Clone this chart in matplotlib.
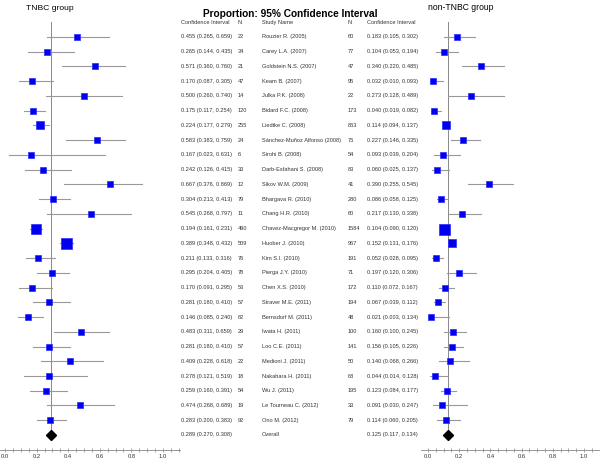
import numpy as np
import matplotlib.pyplot as plt
from matplotlib.ticker import MultipleLocator

plt.rcParams['font.family'] = ['Liberation Sans', 'DejaVu Sans']

studies = ["Rouzier R. (2005)", "Carey L.A. (2007)", "Goldstein N.S. (2007)", "Keam B. (2007)",
           "Julka P.K. (2008)", "Bidard F.C. (2008)", "Liedtke C. (2008)",
           "Sánchez-Muñoz Alfonso (2008)", "Sirohi B. (2008)", "Darb-Esfahani S. (2008)",
           "Sikov W.M. (2009)", "Bhargava R. (2010)", "Chang H.R. (2010)",
           "Chavez-Macgregor M. (2010)", "Huober J. (2010)", "Kim S.I. (2010)",
           "Pierga J.Y. (2010)", "Chen X.S. (2010)", "Straver M.E. (2011)",
           "Bernsdorf M. (2011)", "Iwata H. (2011)", "Loo C.E. (2011)", "Medioni J. (2011)",
           "Nakahara H. (2011)", "Wu J. (2011)", "Le Tourneau C. (2012)", "Ono M. (2012)"]

# TNBC group
tn_p  = [0.455, 0.265, 0.571, 0.170, 0.500, 0.175, 0.224, 0.583, 0.167, 0.242, 0.667, 0.304, 0.545,
         0.194, 0.389, 0.211, 0.295, 0.170, 0.281, 0.146, 0.483, 0.281, 0.409, 0.278, 0.259, 0.474, 0.283]
tn_lo = [0.265, 0.144, 0.360, 0.087, 0.260, 0.117, 0.177, 0.383, 0.023, 0.126, 0.376, 0.213, 0.268,
         0.161, 0.348, 0.133, 0.204, 0.091, 0.180, 0.085, 0.311, 0.180, 0.228, 0.121, 0.160, 0.268, 0.200]
tn_hi = [0.659, 0.435, 0.760, 0.305, 0.740, 0.254, 0.279, 0.759, 0.631, 0.415, 0.869, 0.413, 0.797,
         0.231, 0.432, 0.316, 0.405, 0.295, 0.410, 0.240, 0.659, 0.410, 0.618, 0.519, 0.391, 0.689, 0.383]
tn_n  = [22, 34, 21, 47, 14, 120, 255, 24, 6, 33, 12, 79, 11, 490, 509, 76, 78, 53, 57, 82, 29, 57,
         22, 18, 54, 19, 92]
tn_overall = (0.289, 0.270, 0.308)

# non-TNBC group
nt_p  = [0.183, 0.104, 0.340, 0.032, 0.273, 0.040, 0.114, 0.227, 0.093, 0.060, 0.390, 0.086, 0.217,
         0.104, 0.152, 0.052, 0.197, 0.110, 0.067, 0.021, 0.160, 0.156, 0.140, 0.044, 0.123, 0.091, 0.114]
nt_lo = [0.105, 0.053, 0.220, 0.010, 0.128, 0.019, 0.094, 0.146, 0.039, 0.025, 0.255, 0.058, 0.130,
         0.090, 0.131, 0.028, 0.120, 0.072, 0.039, 0.003, 0.100, 0.105, 0.068, 0.014, 0.084, 0.030, 0.060]
nt_hi = [0.302, 0.194, 0.485, 0.093, 0.489, 0.082, 0.137, 0.335, 0.204, 0.137, 0.545, 0.125, 0.338,
         0.120, 0.176, 0.095, 0.306, 0.167, 0.112, 0.134, 0.245, 0.226, 0.266, 0.128, 0.177, 0.247, 0.205]
nt_n  = [60, 77, 47, 95, 22, 173, 863, 75, 54, 83, 41, 280, 60, 1584, 967, 191, 71, 172, 194, 48, 100,
         141, 50, 68, 195, 33, 79]
nt_overall = (0.125, 0.117, 0.134)

W, H = 600, 461
fig = plt.figure(figsize=(W / 100, H / 100), dpi=100)

row0, step = 37, 14.74
top_px, bot_px = 22, 450
ylim = ((bot_px - row0) / step, (top_px - row0) / step)
nrow = len(studies)
txtcol = '#333333'


def fx(px):
    return px / W


def make_axes(left_px, right_px, x0, x1):
    ax = fig.add_axes([fx(left_px), 1 - bot_px / H, fx(right_px - left_px), (bot_px - top_px) / H])
    ax.set_xlim(x0, x1)
    ax.set_ylim(*ylim)
    for s in ['top', 'right', 'left']:
        ax.spines[s].set_visible(False)
    ax.spines['bottom'].set_color('#888888')
    ax.spines['bottom'].set_linewidth(0.6)
    ax.set_yticks([])
    ax.xaxis.set_major_locator(MultipleLocator(0.2))
    ax.xaxis.set_minor_locator(MultipleLocator(0.05))
    ax.tick_params(axis='x', which='both', direction='inout', length=3, width=0.5,
                   color='#888888', labelsize=4.2, labelcolor=txtcol, pad=1.5)
    ax.xaxis.set_major_formatter(plt.FuncFormatter(lambda v, p: f"{v:.1f}"))
    ax.set_facecolor('none')
    return ax


def forest(ax, p, lo, hi, n, overall):
    nmax = max(n)
    ax.axvline(overall[0], ymin=0.023, ymax=1, color='#888888', lw=0.7, zorder=1)
    for i in range(len(p)):
        ax.plot([lo[i], hi[i]], [i, i], color='#999999', lw=0.8, zorder=2)
        side = 5.5 + 5.5 * n[i] / nmax
        ax.plot(p[i], i, marker='s', ms=side * 0.72, color='#0000ee', mec='#2a2aff', mew=0.5, zorder=3)
    ax.plot([overall[1], overall[2]], [nrow, nrow], color='#999999', lw=0.8, zorder=2)
    ax.plot(overall[0], nrow, marker='D', ms=5, color='black', zorder=3)
    ax.set_ylim(*ylim)


axL = make_axes(0, 180, -0.032, 1.108)
forest(axL, tn_p, tn_lo, tn_hi, tn_n, tn_overall)
axR = make_axes(421, 600, -0.045, 1.103)
forest(axR, nt_p, nt_lo, nt_hi, nt_n, nt_overall)

# text table on a full-figure overlay
axT = fig.add_axes([0, 1 - bot_px / H, 1, (bot_px - top_px) / H])
axT.set_xlim(0, W)
axT.set_ylim(*ylim)
axT.axis('off')

fs = 4.1
cols = {'ci_l': 181, 'n_l': 238, 'name': 262, 'n_r': 348, 'ci_r': 367}
hdr = {'ci_l': "Confidence Interval", 'n_l': "N", 'name': "Study Name", 'n_r': "N", 'ci_r': "Confidence Interval"}
for k, v in hdr.items():
    axT.text(cols[k], -1, v, fontsize=fs, color=txtcol, va='center', ha='left')

for i, name in enumerate(studies):
    axT.text(cols['ci_l'], i, f"{tn_p[i]:.3f} ({tn_lo[i]:.3f}, {tn_hi[i]:.3f})", fontsize=fs,
             color=txtcol, va='center')
    axT.text(cols['n_l'], i, str(tn_n[i]), fontsize=fs, color=txtcol, va='center')
    axT.text(cols['name'], i, name, fontsize=fs, color=txtcol, va='center')
    axT.text(cols['n_r'], i, str(nt_n[i]), fontsize=fs, color=txtcol, va='center')
    axT.text(cols['ci_r'], i, f"{nt_p[i]:.3f} ({nt_lo[i]:.3f}, {nt_hi[i]:.3f})", fontsize=fs,
             color=txtcol, va='center')

axT.text(cols['ci_l'], nrow, "%.3f (%.3f, %.3f)" % tn_overall, fontsize=fs, color=txtcol, va='center')
axT.text(cols['name'], nrow, "Overall", fontsize=fs, color=txtcol, va='center')
axT.text(cols['ci_r'], nrow, "%.3f (%.3f, %.3f)" % nt_overall, fontsize=fs, color=txtcol, va='center')

fig.text(290 / W, 1 - 14 / H, "Proportion: 95% Confidence Interval", fontsize=7.3, fontweight='bold',
         ha='center', va='center', color='black')
fig.text(50 / W, 1 - 8 / H, "TNBC group", fontsize=6.1, ha='center', va='center', color='black')
fig.text(461 / W, 1 - 7 / H, "non-TNBC group", fontsize=6.2, ha='center', va='center', color='black')

fig.savefig('out.png', dpi=100)
